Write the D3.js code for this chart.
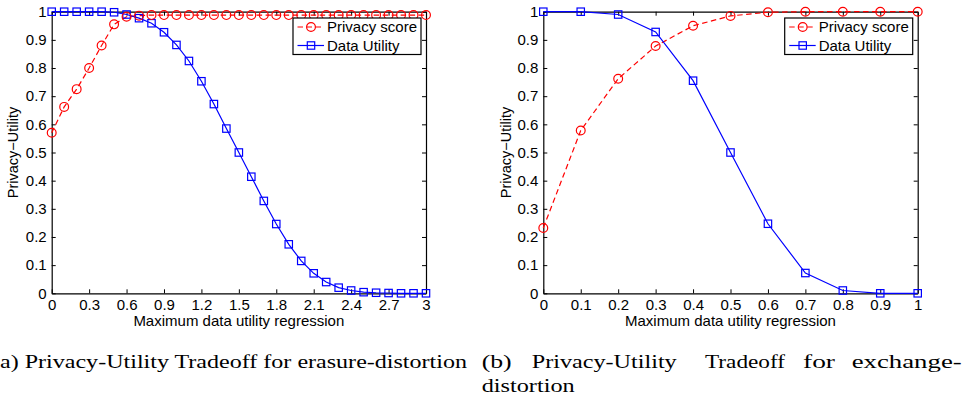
<!DOCTYPE html>
<html><head><meta charset="utf-8">
<script src="https://cdn.jsdelivr.net/npm/d3@7"></script>
<style>body{margin:0;background:#fff}svg{display:block}</style>
</head><body>
<svg id="c" width="965" height="401"></svg>
<script>
// ---- data ----
const xErasure = [0,0.1,0.2,0.3,0.4,0.5,0.6,0.7,0.8,0.9,1.0,1.1,1.2,1.3,1.4,1.5,1.6,1.7,1.8,1.9,2.0,2.1,2.2,2.3,2.4,2.5,2.6,2.7,2.8,2.9,3.0];
const privacyErasure = [0.57,0.662,0.725,0.80,0.88,0.955,0.982,0.986,0.988,0.988,0.988,0.988,0.988,0.988,0.988,0.988,0.988,0.988,0.988,0.988,0.988,0.988,0.988,0.988,0.988,0.988,0.988,0.988,0.988,0.988,0.988];
const utilityErasure = [1,1,1,1,1,0.998,0.99,0.977,0.959,0.927,0.882,0.825,0.753,0.672,0.585,0.5,0.414,0.328,0.246,0.174,0.115,0.071,0.04,0.02,0.01,0.004,0.002,0.001,0,0,0];
const xExchange = [0,0.1,0.2,0.3,0.4,0.5,0.6,0.7,0.8,0.9,1.0];
const privacyExchange = [0.232,0.578,0.762,0.878,0.95,0.985,0.998,1,1,1,1];
const utilityExchange = [1,1,0.99,0.928,0.755,0.5,0.247,0.072,0.01,0,0];
const yTickValues = [0,0.1,0.2,0.3,0.4,0.5,0.6,0.7,0.8,0.9,1];
const yTickLabels = ["0","0.1","0.2","0.3","0.4","0.5","0.6","0.7","0.8","0.9","1"];
const xTickValuesErasure = [0,0.3,0.6,0.9,1.2,1.5,1.8,2.1,2.4,2.7,3];
const xTickLabelsErasure = ["0","0.3","0.6","0.9","1.2","1.5","1.8","2.1","2.4","2.7","3"];
const xTickValuesExchange = [0,0.1,0.2,0.3,0.4,0.5,0.6,0.7,0.8,0.9,1];
const xTickLabelsExchange = ["0","0.1","0.2","0.3","0.4","0.5","0.6","0.7","0.8","0.9","1"];
const seriesNames = ["Privacy score","Data Utility"];
const xTitle = "Maximum data utility regression";
const yTitle = "Privacy\u2212Utility";
const captionA = "(a) Privacy-Utility Tradeoff for erasure-distortion";
const captionBWords = ["(b)","Privacy-Utility","Tradeoff","for","exchange-"];
const captionBLine2 = "distortion";

// ---- drawing ----
const svg = d3.select("#c");
const RED = "#ff0000", BLUE = "#0000ff";
const SANS = "'Liberation Sans', Arial, Helvetica, sans-serif";
const SERIF = "'Liberation Serif', 'Times New Roman', serif";
const plotTop = 11.7, plotBottom = 293.3;

function panel(x0, x1, xDom, xs, priv, util, xtv, xtl, ylabX) {
  const x = d3.scaleLinear().domain(xDom).range([x0, x1]);
  const y = d3.scaleLinear().domain([0, 1]).range([plotBottom, plotTop]);
  const g = svg.append("g");

  const styleAxis = sel => {
    sel.selectAll("path.domain").attr("stroke", "#000").attr("stroke-width", 1.2);
    sel.selectAll(".tick line").attr("stroke", "#000").attr("stroke-width", 1);
    sel.selectAll("text").attr("font-family", SANS).attr("font-size", 15).attr("fill", "#000");
  };
  g.append("g").attr("transform", `translate(0,${plotBottom})`)
    .call(d3.axisBottom(x).tickValues(xtv).tickFormat((d, i) => xtl[i]).tickSizeInner(-4).tickSizeOuter(0).tickPadding(6))
    .call(styleAxis);
  g.append("g").attr("transform", `translate(0,${plotTop})`)
    .call(d3.axisTop(x).tickValues(xtv).tickFormat("").tickSizeInner(-4).tickSizeOuter(0))
    .call(styleAxis);
  g.append("g").attr("transform", `translate(${x0},0)`)
    .call(d3.axisLeft(y).tickValues(yTickValues).tickFormat((d, i) => yTickLabels[i]).tickSizeInner(-4).tickSizeOuter(0).tickPadding(5))
    .call(styleAxis);
  g.append("g").attr("transform", `translate(${x1},0)`)
    .call(d3.axisRight(y).tickValues(yTickValues).tickFormat("").tickSizeInner(-4).tickSizeOuter(0))
    .call(styleAxis);

  g.append("text").attr("x", (x0 + x1) / 2).attr("y", 325.5).attr("text-anchor", "middle")
    .attr("font-family", SANS).attr("font-size", 15).text(xTitle);
  g.append("text").attr("transform", `translate(${ylabX},${(plotTop + plotBottom) / 2}) rotate(-90)`)
    .attr("text-anchor", "middle").attr("dy", "0.35em")
    .attr("font-family", SANS).attr("font-size", 14.5).text(yTitle);

  const line = d3.line().x((d, i) => x(xs[i])).y(d => y(d));
  g.append("path").datum(priv).attr("d", line).attr("fill", "none")
    .attr("stroke", RED).attr("stroke-width", 1.2).attr("stroke-dasharray", "5.5,3.5");
  g.append("path").datum(util).attr("d", line).attr("fill", "none")
    .attr("stroke", BLUE).attr("stroke-width", 1.2);

  g.append("g").selectAll("rect").data(util).join("rect")
    .attr("x", (d, i) => x(xs[i]) - 3.7).attr("y", d => y(d) - 3.7)
    .attr("width", 7.4).attr("height", 7.4)
    .attr("fill", "none").attr("stroke", BLUE).attr("stroke-width", 1.2);
  g.append("g").selectAll("circle").data(priv).join("circle")
    .attr("cx", (d, i) => x(xs[i])).attr("cy", d => y(d)).attr("r", 4.4)
    .attr("fill", "none").attr("stroke", RED).attr("stroke-width", 1.2);

  // legend
  const lw = 128, lh = 36.5;
  const lg = g.append("g").attr("transform", `translate(${x1 - 5 - lw},18)`);
  lg.append("rect").attr("width", lw).attr("height", lh).attr("fill", "#fff")
    .attr("stroke", "#000").attr("stroke-width", 1.2);
  const rows = [
    {name: seriesNames[0], color: RED, dash: "5.5,3.5", mark: "circle", cy: 9},
    {name: seriesNames[1], color: BLUE, dash: null, mark: "square", cy: 27.5}
  ];
  rows.forEach(r => {
    lg.append("line").attr("x1", 4.5).attr("x2", 31).attr("y1", r.cy).attr("y2", r.cy)
      .attr("stroke", r.color).attr("stroke-width", 1.2).attr("stroke-dasharray", r.dash);
    if (r.mark === "circle") {
      lg.append("circle").attr("cx", 18).attr("cy", r.cy).attr("r", 4.4)
        .attr("fill", "none").attr("stroke", r.color).attr("stroke-width", 1.2);
    } else {
      lg.append("rect").attr("x", 18 - 3.7).attr("y", r.cy - 3.7).attr("width", 7.4).attr("height", 7.4)
        .attr("fill", "none").attr("stroke", r.color).attr("stroke-width", 1.2);
    }
    lg.append("text").attr("x", 34).attr("y", r.cy).attr("dy", "0.35em")
      .attr("font-family", SANS).attr("font-size", 15).text(r.name);
  });
}

panel(51.7, 426, [0, 3], xErasure, privacyErasure, utilityErasure, xTickValuesErasure, xTickLabelsErasure, 13.3);
panel(543.3, 917.7, [0, 1], xExchange, privacyExchange, utilityExchange, xTickValuesExchange, xTickLabelsExchange, 506);

// captions
const capFont = 18;
svg.append("text").attr("x", -8).attr("y", 368).attr("font-family", SERIF).attr("font-size", capFont)
  .attr("textLength", 475).attr("lengthAdjust", "spacingAndGlyphs").text(captionA);
const wordPos = [[481.7, 30], [531.7, 145], [705, 80], [803, 32], [851.7, 110]];
captionBWords.forEach((w, i) => {
  svg.append("text").attr("x", wordPos[i][0]).attr("y", 368).attr("font-family", SERIF).attr("font-size", capFont)
    .attr("textLength", wordPos[i][1]).attr("lengthAdjust", "spacingAndGlyphs").text(w);
});
svg.append("text").attr("x", 481.7).attr("y", 392).attr("font-family", SERIF).attr("font-size", capFont)
  .attr("textLength", 93).attr("lengthAdjust", "spacingAndGlyphs").text(captionBLine2);
</script>
</body></html>
